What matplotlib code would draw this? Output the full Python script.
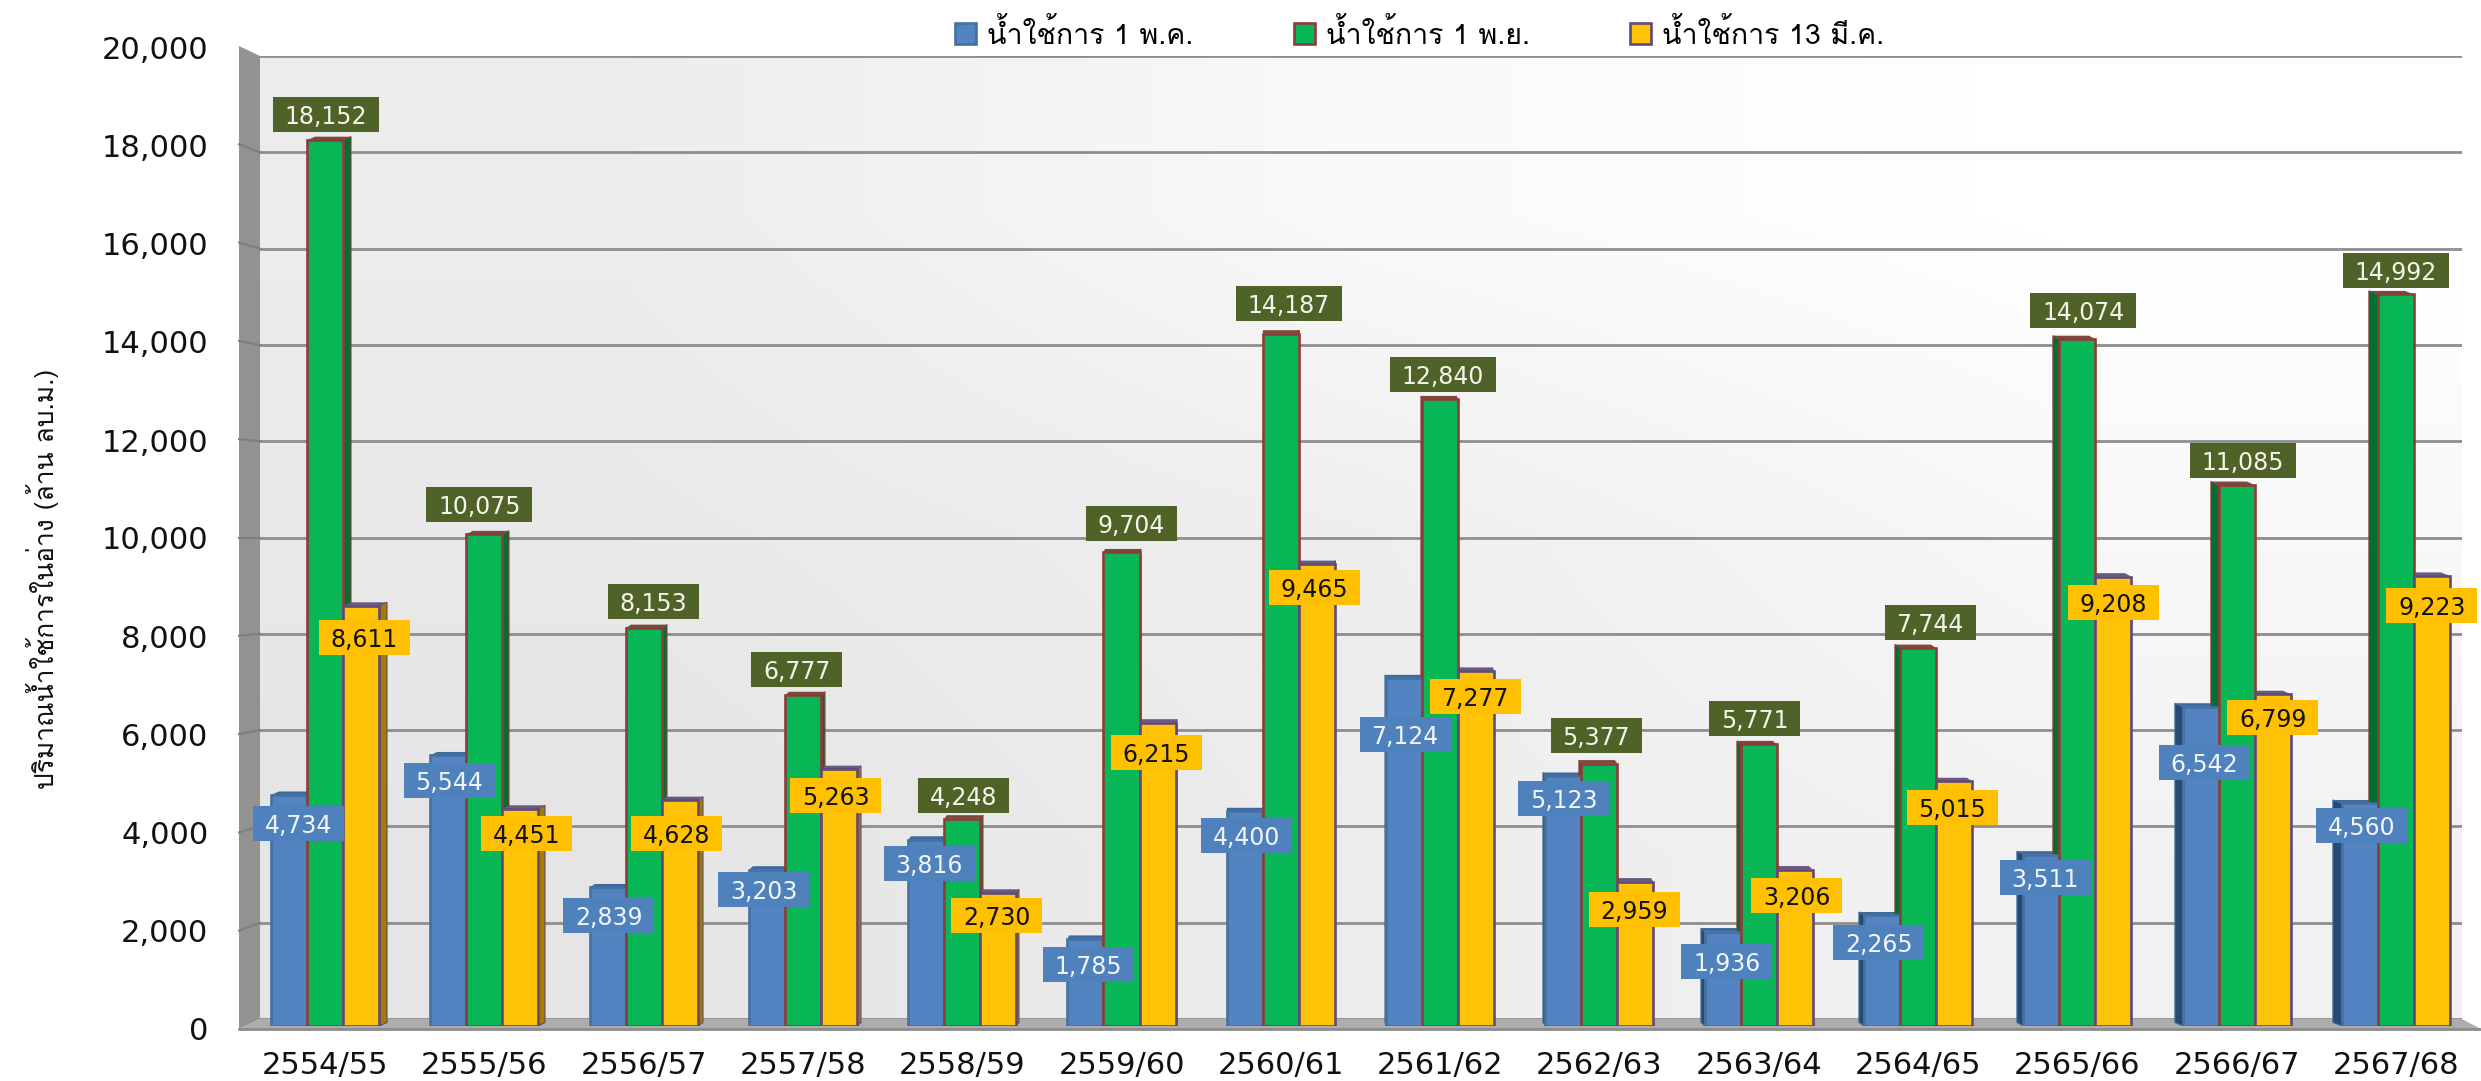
import numpy as np
import matplotlib
matplotlib.use("Agg")
import matplotlib.pyplot as plt
from matplotlib import font_manager as fm
from matplotlib.patches import Polygon, Rectangle
from matplotlib.transforms import ScaledTranslation

seasons = ["2554/55","2555/56","2556/57","2557/58","2558/59","2559/60","2560/61","2561/62","2562/63","2563/64","2564/65","2565/66","2566/67","2567/68"]
may1 = [4734,5544,2839,3203,3816,1785,4400,7124,5123,1936,2265,3511,6542,4560]
nov1 = [18152,10075,8153,6777,4248,9704,14187,12840,5377,5771,7744,14074,11085,14992]
mar13 = [8611,4451,4628,5263,2730,6215,9465,7277,2959,3206,5015,9208,6799,9223]
names = ["น้ำใช้การ 1 พ.ค.","น้ำใช้การ 1 พ.ย.","น้ำใช้การ 13 มี.ค."]
ylabel = "ปริมาณน้ำใช้การในอ่าง (ล้าน ลบ.ม.)"

# hand placement of the value tags relative to their bar (pixels: right, down/up from the bar top)
may_dx = [10,1,1,-3,3,3,2,1,0,4,-3,4,4,2]
may_dy = [29,25.5,28.5,20,24,26,24,56,23,29.5,27.5,23,56,22.5]
mar_dx = [3,6.5,-3,-3,-1.5,-1,-2,-1,-1,2,-2,0,0,0]
mar_dy = [31.5,25,33,26,23,30,23,26,28,26,26,26,23,30]
nov_dx = [1,-5,10,-6,1,10,8,3,-3,-4,12,6,6.5,0]
nov_dy = [26,29.6,27,26,23,29,30,24.5,28.6,26,26,29,25,23.5]

installed = {f.name for f in fm.fontManager.ttflist}
prefer = ["Loma", "Tahoma", "Noto Sans Thai Looped", "IBM Plex Sans Thai Looped", "Noto Sans Thai", "IBM Plex Sans Thai", "FreeSerif"]
thai = [n for n in prefer if n in installed][:1] + ["DejaVu Sans"]

W, H = 2481, 1081
fig = plt.figure(figsize=(W/100, H/100), dpi=100, facecolor="white")
def rect(l, t, r, b):
    return [l/W, 1-b/H, (r-l)/W, (b-t)/H]

# back wall
back = fig.add_axes(rect(260, 56, 2462, 1019), zorder=1)
back.set_xlim(0, 1); back.set_ylim(0, 20000)
grad = np.array([[0.925, 0.975, 1.0], [0.91, 0.932, 0.97], [0.895, 0.925, 0.945]])
back.imshow(grad, extent=(0, 1, 0, 20000), aspect="auto", cmap="gray", vmin=0, vmax=1,
            interpolation="bilinear", origin="upper")
back.set_yticks(np.arange(0, 20001, 2000))
back.grid(axis="y", color="#8e8e8e", lw=2.0)
back.set_axisbelow(False)
back.set_xticks([]); back.tick_params(left=False, labelleft=False)
for s in back.spines.values():
    s.set_visible(False)

def figpoly(pts, **kw):
    p = Polygon([(x/W, 1-y/H) for x, y in pts], closed=True, transform=fig.transFigure, **kw)
    fig.add_artist(p); p.set_zorder(1.5)
    return p
figpoly([(239,46),(260,56),(260,1019),(239,1029)], fc="#929292", ec="none")
figpoly([(239,1029),(260,1019),(2462,1019),(2481,1029)], fc="#adadad", ec="none")
fig.add_artist(plt.Line2D([239/W, 2481/W], [1-1029/H, 1-1029/H], color="#8c8c8c", lw=2, zorder=1.6))
for k in range(1, 10):
    t = k/10
    yb = 1019 - t*963; yf = 1029 - t*983
    fig.add_artist(plt.Line2D([239/W, 260/W], [1-yf/H, 1-yb/H], color="#7f7f7f", lw=1.5, zorder=1.6))

# bar plane
ax = fig.add_axes(rect(239, 50, 2481, 1026), zorder=2)
ax.patch.set_alpha(0)
ux = 159.3
uy = 20000/976
ax.set_xlim((239-325)/ux, (2481-325)/ux)
ax.set_ylim(0, 20000)
for s in ax.spines.values():
    s.set_visible(False)
x = np.arange(len(seasons))
w = 0.226
series = [may1, nov1, mar13]
fronts = ["#5383c1", "#08b655", "#ffc308"]
edges = ["#44719f", "#8f3b3b", "#604a7b"]
sides = ["#264a75", "#00702f", "#a67c00"]
tops = ["#3d6a9f", "#7a4a3a", "#6a5a80"]
bars = []
for j, (v, fc, ec, sc, tc) in enumerate(zip(series, fronts, edges, sides, tops)):
    xs = x + (j-1)*w
    for xi, val, i in zip(xs, v, range(len(x))):
        d = (8 - 17*i/13)/ux
        xl, xr = xi-w/2, xi+w/2
        edge = xr if d > 0 else xl
        rise = 3.5*uy
        ax.add_patch(Polygon([(edge,0),(edge+d,rise),(edge+d,val+rise),(edge,val)], fc=sc, ec=ec, lw=0.8, zorder=3))
        ax.add_patch(Polygon([(xl,val),(xl+d,val+rise),(xr+d,val+rise),(xr,val)], fc=tc, ec="none", zorder=3))
    bars.append(ax.bar(xs, v, width=w, color=fc, edgecolor=ec, linewidth=1.9, zorder=4, label=names[j]))

def tag(val, xc, yc, bw, bh, fc, tc, z):
    ax.add_patch(Rectangle((xc-bw/2/ux, yc-bh/2*uy), bw/ux, bh*uy, fc=fc, ec="none", zorder=z))
    ax.text(xc, yc, f"{val:,}", ha="center", va="center_baseline", fontsize=17, color=tc, zorder=z+0.1)

for i in x:
    tag(may1[i], i-w+may_dx[i]/ux, may1[i]-may_dy[i]*uy, 91, 35, "#4f81bd", "#f0f5fb", 7)
    tag(mar13[i], i+w+mar_dx[i]/ux, mar13[i]-mar_dy[i]*uy, 91, 35, "#ffc000", "#111111", 7)
    tag(nov1[i], i+nov_dx[i]/ux, nov1[i]+nov_dy[i]*uy, 106 if nov1[i] >= 10000 else 91, 35, "#4f6228", "#f4f4ea", 8)

ax.set_xticks(x); ax.set_xticklabels(seasons, fontsize=22, color="#111111")
for i, lab in enumerate(ax.get_xticklabels()):
    lab.set_transform(lab.get_transform() + ScaledTranslation((-5+0.7*i)/100, 0, fig.dpi_scale_trans))
yt = np.arange(0, 20001, 2000)
ax.set_yticks(yt)
ax.yaxis.set_major_formatter(matplotlib.ticker.FuncFormatter(lambda v, _: f"{int(v):,}"))
ax.tick_params(axis="y", length=0, labelsize=22, pad=22, labelcolor="#111111")
ax.tick_params(axis="x", length=0, pad=18)
for v, lab in zip(yt, ax.get_yticklabels()):
    lab.set_transform(lab.get_transform() + ScaledTranslation(0, (-2 + 4*v/20000)/100, fig.dpi_scale_trans))
ax.set_ylabel(ylabel, fontsize=19, family=thai, color="#111111")
ax.yaxis.set_label_coords((59-239)/2242, (1026-579)/976)

leg = ax.legend(handles=bars, ncol=3, loc="center left", bbox_to_anchor=((955-239)/2242, (1026-34)/976),
                frameon=False, prop=fm.FontProperties(family=thai, size=20.5), handlelength=0.75, handleheight=0.8,
                handletextpad=0.38, columnspacing=3.52, borderaxespad=0, borderpad=0)
fig.savefig("out.png", dpi=100)
